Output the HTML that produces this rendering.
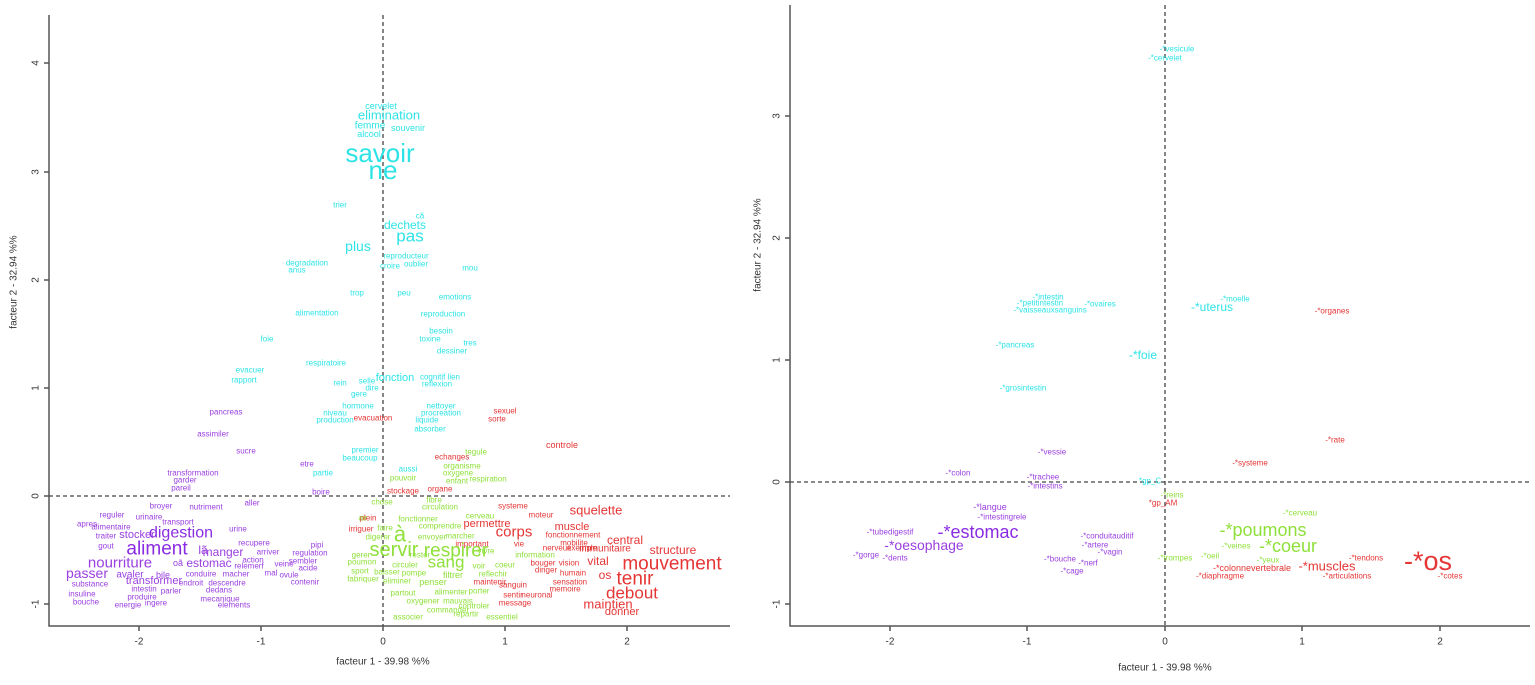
<!DOCTYPE html>
<html><head><meta charset="utf-8"><style>
html,body{margin:0;padding:0;background:#fff;}
svg{display:block;font-family:"Liberation Sans",Arial,sans-serif;}
text{dominant-baseline:central;text-anchor:middle;}
.c{fill:#2ee3e6}.p{fill:#9a3fe0}.g{fill:#8fe03a}.r{fill:#e53535}
.ax{fill:#333;font-size:10px}
</style></head><body>
<svg width="1535" height="685" viewBox="0 0 1535 685">
<!-- LEFT PANEL -->
<g stroke="#555" stroke-width="1.5" fill="none">
<path d="M49,15 V626 H730"/>
<path d="M44,63H49M44,172H49M44,280H49M44,388H49M44,496H49M44,604H49"/>
<path d="M139,626V631M261,626V631M383,626V631M505,626V631M627,626V631"/>
</g>
<g stroke="#444" stroke-width="1.3" stroke-dasharray="4,3">
<line x1="383" y1="15" x2="383" y2="626"/><line x1="49" y1="496" x2="730" y2="496"/>
</g>
<g class="ax">
<text x="36" y="63" transform="rotate(-90 36 63)">4</text>
<text x="36" y="172" transform="rotate(-90 36 172)">3</text>
<text x="36" y="280" transform="rotate(-90 36 280)">2</text>
<text x="36" y="388" transform="rotate(-90 36 388)">1</text>
<text x="36" y="496" transform="rotate(-90 36 496)">0</text>
<text x="36" y="604" transform="rotate(-90 36 604)">-1</text>
<text x="139" y="642">-2</text><text x="261" y="642">-1</text><text x="383" y="642">0</text><text x="505" y="642">1</text><text x="627" y="642">2</text>
<text x="383" y="662">facteur  1  - 39.98 %%</text>
<text x="14" y="282" transform="rotate(-90 14 282)">facteur  2  - 32.94 %%</text>
</g>
<g class="c">
<text x="381" y="106" font-size="9">cervelet</text>
<text x="389" y="115" font-size="13">elimination</text>
<text x="370" y="126" font-size="10">femme</text><text x="408" y="128" font-size="9">souvenir</text>
<text x="369" y="134" font-size="9">alcool</text>
<text x="380" y="153" font-size="26">savoir</text>
<text x="383" y="170" font-size="26">ne</text>
<text x="340" y="205" font-size="8">trier</text>
<text x="420" y="216" font-size="8">cã</text>
<text x="405" y="225" font-size="12">dechets</text>
<text x="410" y="236" font-size="17">pas</text>
<text x="358" y="246" font-size="14">plus</text>
<text x="406" y="256" font-size="8">reproducteur</text>
<text x="390" y="266" font-size="8">croire</text><text x="416" y="264" font-size="8">oublier</text>
<text x="307" y="263" font-size="8">degradation</text><text x="297" y="270" font-size="8">anus</text><text x="470" y="268" font-size="8">mou</text>
<text x="357" y="293" font-size="8">trop</text><text x="404" y="293" font-size="8">peu</text><text x="455" y="297" font-size="8">emotions</text>
<text x="317" y="313" font-size="8">alimentation</text><text x="443" y="314" font-size="8">reproduction</text>
<text x="441" y="331" font-size="8">besoin</text><text x="430" y="339" font-size="8">toxine</text><text x="470" y="343" font-size="8">tres</text>
<text x="452" y="351" font-size="8">dessiner</text>
<text x="267" y="339" font-size="8">foie</text>
<text x="326" y="363" font-size="8">respiratoire</text>
<text x="250" y="370" font-size="8">evacuer</text><text x="244" y="380" font-size="8">rapport</text>
<text x="340" y="383" font-size="8">rein</text><text x="367" y="381" font-size="8">selle</text><text x="372" y="388" font-size="8">dire</text>
<text x="395" y="378" font-size="11">fonction</text><text x="440" y="377" font-size="8">cognitif lien</text><text x="437" y="384" font-size="8">reflexion</text>
<text x="359" y="394" font-size="8">gere</text><text x="358" y="406" font-size="8">hormone</text><text x="335" y="413" font-size="8">niveau</text><text x="335" y="420" font-size="8">production</text>
<text x="441" y="406" font-size="8">nettoyer</text><text x="441" y="413" font-size="8">procreation</text><text x="427" y="420" font-size="8">liquide</text><text x="430" y="429" font-size="8">absorber</text>
<text x="365" y="450" font-size="8">premier</text><text x="360" y="458" font-size="8">beaucoup</text><text x="408" y="469" font-size="8">aussi</text><text x="323" y="473" font-size="8">partie</text>
</g>
<g class="r">
<text x="373" y="418" font-size="8">evacuation</text><text x="505" y="411" font-size="8">sexuel</text><text x="497" y="419" font-size="8">sorte</text>
<text x="562" y="445" font-size="9">controle</text><text x="452" y="457" font-size="8">echanges</text><text x="440" y="489" font-size="8">organe</text><text x="403" y="491" font-size="8">stockage</text>
<text x="513" y="506" font-size="8">systeme</text><text x="541" y="515" font-size="8">moteur</text><text x="596" y="510" font-size="13">squelette</text>
<text x="487" y="524" font-size="11">permettre</text><text x="572" y="527" font-size="11">muscle</text>
<text x="514" y="532" font-size="15">corps</text><text x="573" y="535" font-size="8">fonctionnement</text>
<text x="472" y="544" font-size="8">important</text><text x="519" y="544" font-size="8">vie</text><text x="574" y="543" font-size="8">mobilite</text><text x="625" y="540" font-size="12">central</text>
<text x="557" y="548" font-size="8">nerveux</text><text x="582" y="548" font-size="8">exemple</text><text x="605" y="549" font-size="10">immunitaire</text><text x="673" y="550" font-size="12">structure</text>
<text x="598" y="561" font-size="12">vital</text><text x="543" y="563" font-size="8">bouger</text><text x="569" y="563" font-size="8">vision</text><text x="672" y="564" font-size="19">mouvement</text>
<text x="546" y="570" font-size="8">diriger</text><text x="573" y="573" font-size="8">humain</text><text x="605" y="575" font-size="12">os</text><text x="635" y="579" font-size="19">tenir</text>
<text x="490" y="582" font-size="8">maintenir</text><text x="513" y="585" font-size="8">sanguin</text><text x="570" y="582" font-size="8">sensation</text><text x="632" y="593" font-size="17">debout</text>
<text x="513" y="595" font-size="8">sentir</text><text x="537" y="595" font-size="8">neuronal</text><text x="565" y="589" font-size="8">memoire</text>
<text x="515" y="603" font-size="8">message</text><text x="608" y="604" font-size="13">maintien</text><text x="622" y="612" font-size="11">donner</text>
<text x="361" y="529" font-size="8">irriguer</text><text x="368" y="518" font-size="8">plein</text>
</g>
<g class="p">
<text x="226" y="412" font-size="8">pancreas</text><text x="213" y="434" font-size="8">assimiler</text><text x="246" y="451" font-size="8">sucre</text><text x="307" y="464" font-size="8">etre</text>
<text x="193" y="473" font-size="8">transformation</text><text x="185" y="480" font-size="8">garder</text><text x="181" y="488" font-size="8">pareil</text><text x="321" y="492" font-size="8">boire</text>
<text x="161" y="506" font-size="8">broyer</text><text x="206" y="507" font-size="8">nutriment</text><text x="252" y="503" font-size="8">aller</text>
<text x="112" y="515" font-size="8">reguler</text><text x="149" y="517" font-size="8">urinaire</text><text x="87" y="524" font-size="8">apres</text><text x="111" y="527" font-size="8">alimentaire</text><text x="178" y="522" font-size="8">transport</text>
<text x="106" y="536" font-size="8">traiter</text><text x="137" y="535" font-size="11">stocker</text><text x="181" y="533" font-size="16" style="fill:#8a2be2">digestion</text><text x="238" y="529" font-size="8">urine</text>
<text x="106" y="546" font-size="8">gout</text><text x="157" y="549" font-size="19" style="fill:#8a2be2">aliment</text><text x="203" y="550" font-size="12">lã</text><text x="223" y="552" font-size="12">manger</text><text x="254" y="543" font-size="8">recupere</text><text x="268" y="552" font-size="8">arriver</text><text x="317" y="545" font-size="8">pipi</text><text x="310" y="553" font-size="8">regulation</text>
<text x="120" y="563" font-size="15">nourriture</text><text x="178" y="563" font-size="9">oã</text><text x="209" y="563" font-size="12">estomac</text><text x="253" y="560" font-size="8">action</text><text x="249" y="566" font-size="8">relemerf</text><text x="284" y="564" font-size="8">veine</text><text x="303" y="561" font-size="8">sembler</text><text x="308" y="568" font-size="8">acide</text>
<text x="87" y="573" font-size="14">passer</text><text x="130" y="575" font-size="10">avaler</text><text x="163" y="575" font-size="9">bile</text><text x="201" y="574" font-size="8">conduire</text><text x="236" y="574" font-size="8">macher</text><text x="271" y="573" font-size="8">mal</text><text x="289" y="575" font-size="8">ovule</text><text x="305" y="582" font-size="8">contenir</text>
<text x="90" y="584" font-size="8">substance</text><text x="154" y="581" font-size="11">transformer</text><text x="191" y="583" font-size="8">endroit</text><text x="227" y="583" font-size="8">descendre</text>
<text x="144" y="589" font-size="8">intestin</text><text x="171" y="591" font-size="8">parler</text><text x="219" y="590" font-size="8">dedans</text>
<text x="82" y="594" font-size="8">insuline</text><text x="142" y="597" font-size="8">produire</text><text x="220" y="599" font-size="8">mecanique</text>
<text x="86" y="602" font-size="8">bouche</text><text x="128" y="605" font-size="8">energie</text><text x="156" y="603" font-size="8">ingere</text><text x="234" y="605" font-size="8">elements</text>
</g>
<g class="g">
<text x="476" y="452" font-size="8">tegule</text><text x="462" y="466" font-size="8">organisme</text><text x="458" y="473" font-size="8">oxygene</text><text x="457" y="481" font-size="8">enfant</text><text x="488" y="479" font-size="8">respiration</text><text x="403" y="478" font-size="8">pouvoir</text>
<text x="382" y="502" font-size="8">chose</text><text x="434" y="500" font-size="8">fibre</text><text x="440" y="507" font-size="8">circulation</text>
<text x="363" y="518" font-size="8">air</text><text x="385" y="528" font-size="8">faire</text><text x="418" y="519" font-size="8">fonctionner</text><text x="480" y="516" font-size="8">cerveau</text><text x="440" y="526" font-size="8">comprendre</text>
<text x="378" y="537" font-size="8">digerer</text><text x="400" y="534" font-size="22">à</text><text x="432" y="537" font-size="8">envoyer</text><text x="460" y="536" font-size="8">marcher</text>
<text x="394" y="550" font-size="20">servir</text><text x="456" y="551" font-size="19">respirer</text><text x="486" y="551" font-size="8">vivre</text><text x="535" y="555" font-size="8">information</text>
<text x="361" y="555" font-size="8">gerer</text><text x="362" y="562" font-size="8">poumon</text><text x="446" y="562" font-size="17">sang</text><text x="405" y="565" font-size="8">circuler</text><text x="479" y="566" font-size="8">voir</text><text x="505" y="565" font-size="8">coeur</text><text x="420" y="555" font-size="8">rester</text>
<text x="360" y="571" font-size="8">sport</text><text x="363" y="579" font-size="8">fabriquer</text><text x="387" y="572" font-size="8">baisser</text><text x="414" y="573" font-size="8">pompe</text><text x="453" y="575" font-size="9">filtrer</text><text x="493" y="574" font-size="8">reflechir</text>
<text x="397" y="581" font-size="8">eliminer</text><text x="433" y="582" font-size="9">penser</text>
<text x="403" y="593" font-size="8">partout</text><text x="451" y="592" font-size="8">alimenter</text><text x="479" y="591" font-size="8">porter</text><text x="423" y="601" font-size="8">oxygener</text><text x="458" y="601" font-size="8">mauvais</text>
<text x="448" y="610" font-size="8">commander</text><text x="474" y="606" font-size="8">controler</text><text x="408" y="617" font-size="8">associer</text><text x="466" y="614" font-size="8">repartir</text><text x="502" y="617" font-size="8">essentiel</text>
</g>

<!-- RIGHT PANEL -->
<g stroke="#555" stroke-width="1.5" fill="none">
<path d="M790,5 V626 H1530"/>
<path d="M785,116H790M785,238H790M785,360H790M785,482H790M785,604H790"/>
<path d="M890,626V631M1027,626V631M1165,626V631M1302,626V631M1440,626V631"/>
</g>
<g stroke="#444" stroke-width="1.3" stroke-dasharray="4,3">
<line x1="1165" y1="5" x2="1165" y2="626"/><line x1="790" y1="482" x2="1530" y2="482"/>
</g>
<g class="ax">
<text x="777" y="116" transform="rotate(-90 777 116)">3</text>
<text x="777" y="238" transform="rotate(-90 777 238)">2</text>
<text x="777" y="360" transform="rotate(-90 777 360)">1</text>
<text x="777" y="482" transform="rotate(-90 777 482)">0</text>
<text x="777" y="604" transform="rotate(-90 777 604)">-1</text>
<text x="890" y="642">-2</text><text x="1027" y="642">-1</text><text x="1165" y="642">0</text><text x="1302" y="642">1</text><text x="1440" y="642">2</text>
<text x="1165" y="668">facteur  1  - 39.98 %%</text>
<text x="758" y="245" transform="rotate(-90 758 245)">facteur  2  - 32.94 %%</text>
</g>
<g class="c">
<text x="1177" y="49" font-size="8">-*vesicule</text><text x="1165" y="58" font-size="8">-*cervelet</text>
<text x="1048" y="297" font-size="8">-*intestin</text><text x="1040" y="303" font-size="8">-*petitintestin</text><text x="1050" y="310" font-size="8">-*vaisseauxsanguins</text><text x="1100" y="304" font-size="8">-*ovaires</text>
<text x="1212" y="307" font-size="12">-*uterus</text><text x="1235" y="299" font-size="8">-*moelle</text>
<text x="1015" y="345" font-size="8">-*pancreas</text><text x="1143" y="355" font-size="12">-*foie</text><text x="1023" y="388" font-size="8">-*grosintestin</text>
<text x="1150" y="481" font-size="8">*gp_C</text>
</g>
<g class="r">
<text x="1332" y="311" font-size="8">-*organes</text><text x="1335" y="440" font-size="8">-*rate</text><text x="1250" y="463" font-size="8">-*systeme</text>
<text x="1163" y="503" font-size="8">*gp_AM</text>
<text x="1252" y="568" font-size="9">-*colonnevertebrale</text><text x="1327" y="566" font-size="13">-*muscles</text><text x="1366" y="558" font-size="8">-*tendons</text>
<text x="1428" y="561" font-size="27">-*os</text><text x="1220" y="576" font-size="8">-*diaphragme</text><text x="1347" y="576" font-size="8">-*articulations</text><text x="1450" y="576" font-size="8">-*cotes</text>
</g>
<g class="p">
<text x="1052" y="452" font-size="8">-*vessie</text><text x="958" y="473" font-size="8">-*colon</text><text x="1043" y="477" font-size="8">-*trachee</text><text x="1045" y="486" font-size="8">-*intestins</text>
<text x="990" y="507" font-size="9">-*langue</text><text x="1002" y="517" font-size="8">-*intestingrele</text>
<text x="890" y="532" font-size="8">-*tubedigestif</text><text x="978" y="532" font-size="18" style="fill:#8a2be2">-*estomac</text><text x="924" y="545" font-size="14">-*oesophage</text>
<text x="866" y="555" font-size="8">-*gorge</text><text x="895" y="558" font-size="8">-*dents</text>
<text x="1107" y="536" font-size="8">-*conduitauditif</text><text x="1095" y="545" font-size="8">-*artere</text><text x="1110" y="552" font-size="8">-*vagin</text><text x="1060" y="559" font-size="8">-*bouche</text><text x="1088" y="563" font-size="8">-*nerf</text><text x="1072" y="571" font-size="8">-*cage</text>
</g>
<g class="g">
<text x="1172" y="495" font-size="8">-*reins</text><text x="1300" y="513" font-size="8">-*cerveau</text>
<text x="1263" y="530" font-size="18">-*poumons</text><text x="1236" y="546" font-size="8">-*veines</text><text x="1288" y="546" font-size="18">-*coeur</text>
<text x="1175" y="558" font-size="8">-*trompes</text><text x="1210" y="556" font-size="8">-*oeil</text><text x="1268" y="560" font-size="8">-*yeux</text>
</g>
</svg>
</body></html>
